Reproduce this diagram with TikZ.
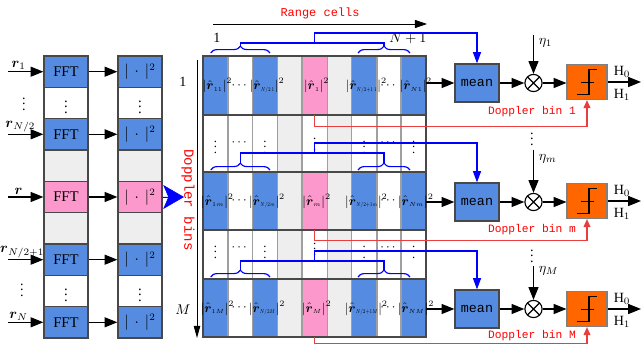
\documentclass[tikz,border=0pt]{standalone}
\usepackage{amsmath}
\usepackage{amssymb}
\usepackage{graphicx}
\usepackage{fontspec}
\setmainfont{Liberation Serif}
\newfontfamily\monofont{Liberation Mono}
\usepackage{tikz}
\usetikzlibrary{positioning,arrows.meta,calc,decorations.pathreplacing}

\definecolor{cellblue}{RGB}{85,140,225}
\definecolor{cellpink}{RGB}{252,152,204}
\definecolor{cellgray}{RGB}{238,238,238}
\definecolor{threshorange}{RGB}{255,102,0}
\definecolor{linered}{RGB}{232,62,62}
\definecolor{gridgray}{RGB}{72,72,72}

\newcommand{\rsq}[1]{$\left|\hat{\boldsymbol{r}}_{\scalebox{0.85}{$\scriptscriptstyle #1$}}\right|^{2}$}
\newcommand{\rsqn}[1]{$\left|\hat{\boldsymbol{r}}_{\scalebox{0.55}[0.8]{$\scriptscriptstyle #1$}}\right|^{2}$}

\begin{document}
\begin{tikzpicture}[x=0.025cm,y=-0.025cm,
  fftbox/.style={rectangle,draw=gridgray,line width=0.9pt,fill=#1,minimum width=1.1cm,minimum height=0.78cm,inner sep=0pt,font=\fontsize{10.5}{12}\selectfont},
  cell/.style={rectangle,fill=#1,minimum width=0.62cm,minimum height=1.45cm,inner sep=0pt},
  graycol/.style={rectangle,fill=cellgray,minimum width=0.62cm,minimum height=7.025cm,inner sep=0pt},
  gridframe/.style={rectangle,draw=gridgray,line width=1.3pt,minimum width=5.58cm,minimum height=7.025cm,inner sep=0pt},
  rowline/.style={draw=gridgray,line width=1.3pt},
  colline/.style={draw=gray!75,line width=0.9pt},
  celltext/.style={font=\fontsize{9}{10}\selectfont,inner sep=0pt,xshift=1.5pt},
  dotstext/.style={font=\fontsize{9}{10}\selectfont,inner sep=0pt},
  arr/.style={-{Triangle[length=0.32cm,width=0.25cm]},line width=0.9pt},
  thinarr/.style={-{Triangle[length=0.3cm,width=0.16cm]},line width=0.6pt},
  bigarrow/.style={-{Stealth[length=0.52cm,width=0.6cm,inset=0.13cm]},draw=blue,fill=blue,line width=0.4pt},
  bluebrace/.style={decorate,decoration={brace,amplitude=0.17cm},draw=blue,line width=0.8pt},
  blueline/.style={draw=blue,line width=0.8pt},
  bluearrow/.style={blueline,-{Triangle[length=0.28cm,width=0.2cm]}},
  redarrow/.style={draw=linered,line width=0.9pt,-{Triangle[length=0.2cm,width=0.17cm]}},
  meanbox/.style={rectangle,draw=gridgray,line width=0.9pt,fill=cellblue,minimum width=1.1cm,minimum height=0.95cm,font=\monofont\fontsize{9.5}{11}\selectfont},
  mulnode/.style={circle,draw,line width=0.8pt,minimum size=0.43cm,inner sep=0pt,
    path picture={\draw[line width=0.8pt] (path picture bounding box.south west) -- (path picture bounding box.north east)
      (path picture bounding box.north west) -- (path picture bounding box.south east);}},
  thbox/.style={rectangle,draw=gray,line width=0.8pt,fill=threshorange,minimum width=1.0cm,minimum height=0.875cm},
  thsym/.style={line width=1.3pt,line join=miter},
  binlab/.style={font=\monofont\fontsize{8}{9}\selectfont,text=red},
  hlab/.style={font=\fontsize{10}{12}\selectfont},
  rlab/.style={font=\fontsize{10}{12}\selectfont,inner sep=1pt},
]
\path[use as bounding box,fill=white] (0,0) rectangle (641,354);

% === INPUT SIDE: FFT and square-law per pulse ===
\node[fftbox=cellblue] (fft1) at (66,71.7)  {FFT};
\node[fftbox=white]    (fftd1) at (66,103)  {$\vdots$};
\node[fftbox=cellblue] (fft2) at (66,134.3) {FFT};
\node[fftbox=cellgray] (fftg1) at (66,165.7) {};
\node[fftbox=cellpink] (fftc) at (66,197)   {FFT};
\node[fftbox=cellgray] (fftg2) at (66,228.3) {};
\node[fftbox=cellblue] (fft3) at (66,259.7) {FFT};
\node[fftbox=white]    (fftd2) at (66,291)  {$\vdots$};
\node[fftbox=cellblue] (fft4) at (66,322.3) {FFT};

\node[fftbox=cellblue] (abs1) at (140,71.7)  {$|\,\cdot\,|^2$};
\node[fftbox=white]    (absd1) at (140,103)  {$\vdots$};
\node[fftbox=cellblue] (abs2) at (140,134.3) {$|\,\cdot\,|^2$};
\node[fftbox=cellgray] (absg1) at (140,165.7) {};
\node[fftbox=cellpink] (absc) at (140,197)   {$|\,\cdot\,|^2$};
\node[fftbox=cellgray] (absg2) at (140,228.3) {};
\node[fftbox=cellblue] (abs3) at (140,259.7) {$|\,\cdot\,|^2$};
\node[fftbox=white]    (absd2) at (140,291)  {$\vdots$};
\node[fftbox=cellblue] (abs4) at (140,322.3) {$|\,\cdot\,|^2$};

\coordinate (in1) at (8,71.7);
\coordinate (in2) at (8,134.3);
\coordinate (in3) at (8,197);
\coordinate (in4) at (8,259.7);
\coordinate (in5) at (8,322.3);
\draw[arr] (in1) -- node[rlab,pos=0.3,above] (lr1) {$\boldsymbol{r}_1$} (fft1.west);
\draw[arr] (in2) -- node[rlab,pos=0.35,above] (lr2) {$\boldsymbol{r}_{N/2}$} (fft2.west);
\draw[arr] (in3) -- node[rlab,pos=0.3,above] (lr3) {$\boldsymbol{r}$} (fftc.west);
\draw[arr] (in4) -- node[rlab,pos=0.4,above] (lr4) {$\boldsymbol{r}_{N/2+1}$} (fft3.west);
\draw[arr] (in5) -- node[rlab,pos=0.3,above] (lr5) {$\boldsymbol{r}_N$} (fft4.west);
\node[rlab] (ldots1) at (24,100) {$\vdots$};
\node[rlab] (ldots2) at (22,286) {$\vdots$};

\draw[arr] (fft1.east) -- (abs1.west);
\draw[arr] (fft2.east) -- (abs2.west);
\draw[arr] (fftc.east) -- (absc.west);
\draw[arr] (fft3.east) -- (abs3.west);
\draw[arr] (fft4.east) -- (abs4.west);

\coordinate (gin) at (184,197);
\draw[bigarrow] (absc.east) -- (gin);

% === DOPPLER AXIS and RANGE AXIS ===
\coordinate (db0) at (197,60);
\coordinate (db1) at (197,338);
\draw[thinarr] (db0) -- (db1);
\node[hlab] (dbfirst) at (183,82) {1};
\node[hlab] (dblast) at (183,310) {$M$};
\node[font=\monofont\fontsize{10}{12}\selectfont,text=red,rotate=-90] (dblab) at (188,200) {Doppler bins};

\coordinate (rc0) at (213,24);
\coordinate (rc1) at (427,24);
\draw[thinarr,-{Triangle[length=0.3cm,width=0.2cm]}] (rc0) -- (rc1);
\node[binlab,font=\monofont\fontsize{8.5}{10}\selectfont] (rclab) at (320,13) {Range cells};
\node[hlab] (rcfirst) at (217,38) {1};
\node[hlab] (rclast) at (408,38) {$N+1$};

% === RANGE-DOPPLER MAP ===
\node[graycol] (g4) at (289.8,196.5) {};
\node[graycol] (g6) at (339.4,196.5) {};

\node[cell=cellblue] (c11) at (215.4,85.5) {};
\node[cell=cellblue] (c13) at (265.0,85.5) {};
\node[cell=cellpink] (c15) at (314.6,85.5) {};
\node[cell=cellblue] (c17) at (364.2,85.5) {};
\node[cell=cellblue] (c19) at (413.8,85.5) {};

\node[cell=cellblue] (c31) at (215.4,201) {};
\node[cell=cellblue] (c33) at (265.0,201) {};
\node[cell=cellpink] (c35) at (314.6,201) {};
\node[cell=cellblue] (c37) at (364.2,201) {};
\node[cell=cellblue] (c39) at (413.8,201) {};

\node[cell=cellblue] (c51) at (215.4,308) {};
\node[cell=cellblue] (c53) at (265.0,308) {};
\node[cell=cellpink] (c55) at (314.6,308) {};
\node[cell=cellblue] (c57) at (364.2,308) {};
\node[cell=cellblue] (c59) at (413.8,308) {};

\node[gridframe] (grid) at (314.6,196.5) {};
\draw[colline] (c11.east |- grid.north) -- (c11.east |- grid.south)
  (c13.west |- grid.north) -- (c13.west |- grid.south)
  (c13.east |- grid.north) -- (c13.east |- grid.south)
  (c15.west |- grid.north) -- (c15.west |- grid.south)
  (c15.east |- grid.north) -- (c15.east |- grid.south)
  (c17.west |- grid.north) -- (c17.west |- grid.south)
  (c17.east |- grid.north) -- (c17.east |- grid.south)
  (c19.west |- grid.north) -- (c19.west |- grid.south);
\draw[rowline] (grid.west |- c11.south) -- (grid.east |- c11.south)
  (grid.west |- c31.north) -- (grid.east |- c31.north)
  (grid.west |- c31.south) -- (grid.east |- c31.south)
  (grid.west |- c51.north) -- (grid.east |- c51.north);
\node[gridframe] (gridtop) at (grid) {};

% cell contents
\node[celltext] (t11) at (c11) {\rsq{11}};
\node[dotstext] (t12) at (240.2,85.5) {$\cdots$};
\node[celltext] (t13) at (c13) {\rsqn{N/2\,1}};
\node[celltext] (t15) at (c15) {\rsq{1}};
\node[celltext] (t17) at (c17) {\rsqn{N/2+1\,1}};
\node[dotstext] (t18) at (389,85.5) {$\cdots$};
\node[celltext] (t19) at (c19) {\rsq{N1}};

\node[celltext] (t31) at (c31) {\rsq{1m}};
\node[dotstext] (t32) at (240.2,201) {$\cdots$};
\node[celltext] (t33) at (c33) {\rsqn{N/2m}};
\node[celltext] (t35) at (c35) {\rsq{m}};
\node[celltext] (t37) at (c37) {\rsqn{N/2+1m}};
\node[dotstext] (t38) at (389,201) {$\cdots$};
\node[celltext] (t39) at (c39) {\rsq{Nm}};

\node[celltext] (t51) at (c51) {\rsq{1M}};
\node[dotstext] (t52) at (240.2,308) {$\cdots$};
\node[celltext] (t53) at (c53) {\rsqn{N/2M}};
\node[celltext] (t55) at (c55) {\rsq{M}};
\node[celltext] (t57) at (c57) {\rsqn{N/2+1M}};
\node[dotstext] (t58) at (389,308) {$\cdots$};
\node[celltext] (t59) at (c59) {\rsq{NM}};

\node[dotstext] (d21) at (215.4,143) {$\vdots$};
\node[dotstext] (d22) at (240.2,143) {$\cdots$};
\node[dotstext] (d23) at (265.0,143) {$\vdots$};
\node[dotstext] (d25) at (314.6,140) {$\vdots$};
\node[dotstext] (d27) at (364.2,143) {$\vdots$};
\node[dotstext] (d28) at (389.0,143) {$\cdots$};
\node[dotstext] (d29) at (413.8,143) {$\vdots$};

\node[dotstext] (d41) at (215.4,248) {$\vdots$};
\node[dotstext] (d42) at (240.2,248) {$\cdots$};
\node[dotstext] (d43) at (265.0,248) {$\vdots$};
\node[dotstext] (d45) at (314.6,245) {$\vdots$};
\node[dotstext] (d47) at (364.2,248) {$\vdots$};
\node[dotstext] (d48) at (389.0,248) {$\cdots$};
\node[dotstext] (d49) at (413.8,248) {$\vdots$};

% === PER-BIN DETECTORS ===
\node[meanbox] (mean1) at (477,83)  {mean};
\node[meanbox] (mean2) at (477,202) {mean};
\node[meanbox] (mean3) at (477,309) {mean};

\node[mulnode] (mul1) at (533.5,83)  {};
\node[mulnode] (mul2) at (533.5,202) {};
\node[mulnode] (mul3) at (533.5,309) {};

\node[thbox] (th1) at (587,82)  {};
\node[thbox] (th2) at (587,201) {};
\node[thbox] (th3) at (587,309) {};
\draw[thsym,shift={(th1.center)}] (-10,12.5) -- (2,12.5) -- (2,-12.5) -- (10,-12.5) (-6,0.5) -- (7,0.5);
\draw[thsym,shift={(th2.center)}] (-10,12.5) -- (2,12.5) -- (2,-12.5) -- (10,-12.5) (-6,0.5) -- (7,0.5);
\draw[thsym,shift={(th3.center)}] (-10,12.5) -- (2,12.5) -- (2,-12.5) -- (10,-12.5) (-6,0.5) -- (7,0.5);

\draw[arr] (c19.east |- mean1.west) -- (mean1.west);
\draw[arr] (c39.east |- mean2.west) -- (mean2.west);
\draw[arr] (c59.east |- mean3.west) -- (mean3.west);
\draw[arr] (mean1.east) -- (mul1.west);
\draw[arr] (mean2.east) -- (mul2.west);
\draw[arr] (mean3.east) -- (mul3.west);
\draw[arr] (mul1.east) -- (th1.west |- mul1.east);
\draw[arr] (mul2.east) -- (th2.west |- mul2.east);
\draw[arr] (mul3.east) -- (th3.west |- mul3.east);

\coordinate (out1) at (641,82);
\coordinate (out2) at (641,201);
\coordinate (out3) at (641,309);
\draw[arr] (th1.east) -- (out1);
\draw[arr] (th2.east) -- (out2);
\draw[arr] (th3.east) -- (out3);
\node[hlab] (h01) at (622,72)  {H$_0$};
\node[hlab] (h11) at (622,95)  {H$_1$};
\node[hlab] (h02) at (622,191) {H$_0$};
\node[hlab] (h12) at (622,214) {H$_1$};
\node[hlab] (h03) at (622,299) {H$_0$};
\node[hlab] (h13) at (622,322) {H$_1$};

% thresholds
\coordinate (eta1) at (533.5,35);
\coordinate (eta2) at (533.5,150);
\coordinate (eta3) at (533.5,266);
\draw[arr] (eta1) -- node[right,pos=0.2,hlab] (leta1) {$\eta_1$} (mul1.north);
\draw[arr] (eta2) -- node[right,pos=0.2,hlab] (leta2) {$\eta_m$} (mul2.north);
\draw[arr] (eta3) -- node[right,pos=0.15,hlab] (leta3) {$\eta_M$} (mul3.north);
\node[rlab] (vd1) at (532,135) {$\vdots$};
\node[rlab] (vd2) at (532,252) {$\vdots$};

% === GROUPING BRACES (training cells) ===
\draw[bluebrace] (210.7,53) -- (270,53);
\draw[bluebrace] (358,53) -- (410,53);
\coordinate (bl1) at (240.3,46);
\coordinate (br1) at (384,46);
\coordinate (jn1) at (314.6,43);
\draw[blueline] (bl1) |- (jn1) -| (br1);
\draw[bluearrow] (jn1) -- ++(0,-10) -| (mean1.north);

\draw[bluebrace] (210.7,170) -- (270,170);
\draw[bluebrace] (358,170) -- (410,170);
\coordinate (bl2) at (240.3,163);
\coordinate (br2) at (384,163);
\coordinate (jn2) at (314.6,153);
\draw[blueline] (bl2) |- (jn2) -| (br2);
\draw[bluearrow] (jn2) -- ++(0,-10) -| (mean2.north);

\draw[bluebrace] (210.7,277) -- (270,277);
\draw[bluebrace] (358,277) -- (410,277);
\coordinate (bl3) at (240.3,270);
\coordinate (br3) at (384,270);
\coordinate (jn3) at (314.6,261);
\draw[blueline] (bl3) |- (jn3) -| (br3);
\draw[bluearrow] (jn3) -- ++(0,-10) -| (mean3.north);

% cell under test to threshold
\draw[redarrow] (c15.south) -- ++(0,12) -| (th1.south);
\draw[redarrow] (c35.south) -- ++(0,10) -| (th2.south);
\draw[redarrow] (c55.south) -- ++(0,6) -| (th3.south);
\node[binlab] (dbin1) at (532,112) {Doppler bin 1};
\node[binlab] (dbin2) at (532,230) {Doppler bin m};
\node[binlab] (dbin3) at (532,336) {Doppler bin M};

\end{tikzpicture}
\end{document}
